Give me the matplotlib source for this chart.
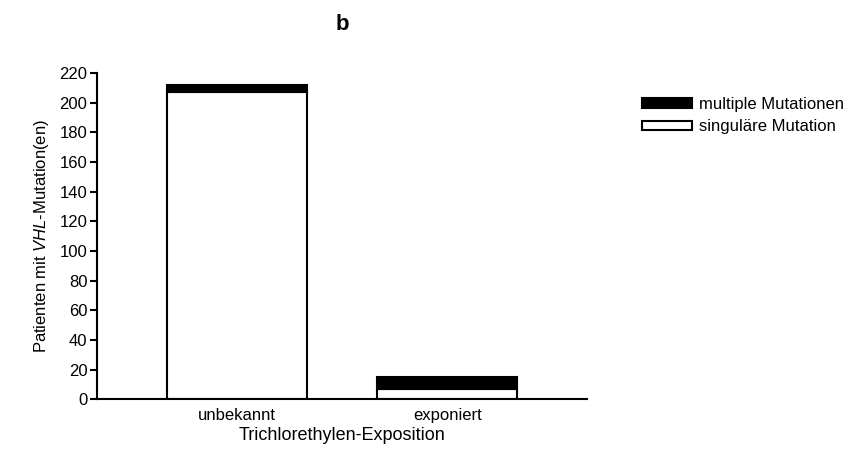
import matplotlib.pyplot as plt
import numpy as np

plt.rcParams['font.family'] = 'Liberation Sans'
plt.rcParams['mathtext.fontset'] = 'custom'
plt.rcParams['mathtext.rm'] = 'Liberation Sans'
plt.rcParams['mathtext.it'] = 'Liberation Sans:italic'

# Daten
gruppen = ["unbekannt", "exponiert"]
singulaer = [207, 7]
multipel = [5, 8]

x = np.array([0, 1.5])

fig = plt.figure(figsize=(8.51, 4.68), dpi=100)
ax = fig.add_axes([0.114, 0.147, 0.576, 0.697])

ax.bar(x, singulaer, width=1.0, color="white", edgecolor="black",
       linewidth=1.5, label="singuläre Mutation")
ax.bar(x, multipel, width=1.0, bottom=singulaer, color="black",
       edgecolor="black", linewidth=1.5, label="multiple Mutationen")

ax.set_xlim(-1, 2.5)
ax.set_ylim(0, 220)
ax.set_yticks(range(0, 221, 20))
ax.set_xticks(x)
ax.set_xticklabels(gruppen, fontsize=12)
ax.tick_params(axis="x", length=0, pad=6)
ax.tick_params(axis="y", length=5, width=1.5, labelsize=12, pad=2)

for s in ["top", "right"]:
    ax.spines[s].set_visible(False)
for s in ["left", "bottom"]:
    ax.spines[s].set_linewidth(1.5)

ax.set_xlabel("Trichlorethylen-Exposition", fontsize=13, labelpad=3)
ax.set_ylabel("Patienten mit $\\it{VHL}$-Mutation(en)", fontsize=12, labelpad=6)
ax.set_title("b", fontsize=16, fontweight="bold", pad=31)

handles, labels = ax.get_legend_handles_labels()
fig.legend(handles[::-1], labels[::-1], loc="upper left",
           bbox_to_anchor=(0.737, 0.825), frameon=False, fontsize=12,
           handlelength=3.0, handleheight=0.5, labelspacing=0.45,
           handletextpad=0.4)

fig.savefig("out.png", dpi=100)
